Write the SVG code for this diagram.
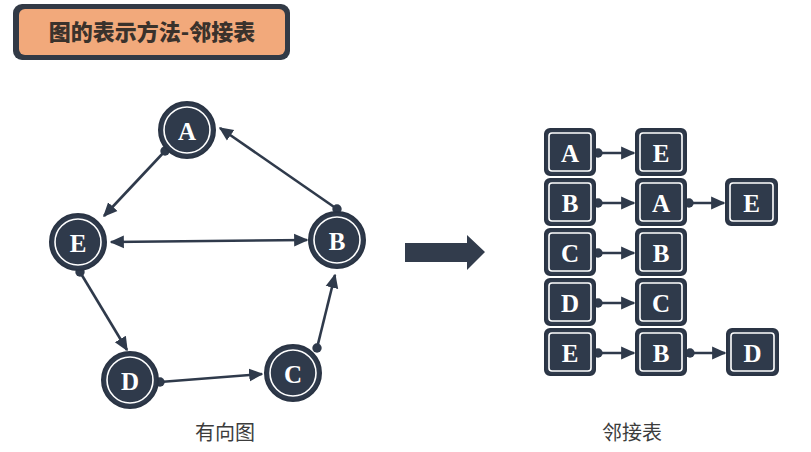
<svg xmlns="http://www.w3.org/2000/svg" width="811" height="452" viewBox="0 0 811 452">
<style>
.n circle.o{fill:#2f3a4b;stroke:#2a3444;stroke-width:2}
.n circle.i{fill:none;stroke:#ffffff;stroke-width:1.6}
.lt{font-family:"Liberation Serif","Times New Roman",serif;font-weight:bold;font-size:25px;fill:#ffffff;text-anchor:middle;dominant-baseline:central}
.b rect.o{fill:#2f3a4b;stroke:#2a3444;stroke-width:2}
.b rect.i{fill:none;stroke:#ffffff;stroke-width:1.6}
.e{stroke:#2f3a4b;stroke-width:2.6;fill:none}
.cap{font-family:"Noto Sans CJK SC","Noto Sans",sans-serif;font-size:20px;fill:#3c3c3c;text-anchor:middle}
</style>
<defs>
<marker id="ah" viewBox="0 0 10 10" refX="9" refY="5" markerWidth="5.5" markerHeight="5.5" orient="auto-start-reverse" markerUnits="strokeWidth">
<path d="M0,0.5 L10,5 L0,9.5 z" fill="#2f3a4b"/>
</marker>
<marker id="dt" viewBox="0 0 10 10" refX="5" refY="5" markerWidth="3.6" markerHeight="3.6" markerUnits="strokeWidth">
<circle cx="5" cy="5" r="5" fill="#2f3a4b"/>
</marker>
</defs>
<rect width="811" height="452" fill="#ffffff"/>
<g id="title">
<rect x="13" y="4" width="277" height="56" rx="9" fill="#323a46"/>
<rect x="19" y="9" width="266" height="46" rx="6" fill="#f2a97b"/>
<text x="152" y="40" font-family="Noto Sans CJK SC,sans-serif" font-weight="900" font-size="22" fill="#3a322c" text-anchor="middle">图的表示方法-邻接表</text>
</g>
<g id="connectors">
<line class="e" x1="165" y1="151" x2="104" y2="216" marker-start="url(#dt)" marker-end="url(#ah)"/>
<line class="e" x1="337" y1="209" x2="220" y2="128" marker-start="url(#dt)" marker-end="url(#ah)"/>
<line class="e" x1="111" y1="242" x2="307" y2="240" marker-start="url(#ah)" marker-end="url(#ah)"/>
<line class="e" x1="80" y1="272" x2="127" y2="350" marker-start="url(#dt)" marker-end="url(#ah)"/>
<line class="e" x1="160" y1="382" x2="262" y2="374" marker-start="url(#dt)" marker-end="url(#ah)"/>
<line class="e" x1="317" y1="348" x2="335" y2="275" marker-start="url(#dt)" marker-end="url(#ah)"/>
<line class="e" x1="598" y1="153" x2="634" y2="153" marker-start="url(#dt)" marker-end="url(#ah)"/>
<line class="e" x1="598" y1="203" x2="634" y2="203" marker-start="url(#dt)" marker-end="url(#ah)"/>
<line class="e" x1="689" y1="203" x2="724" y2="203" marker-start="url(#dt)" marker-end="url(#ah)"/>
<line class="e" x1="598" y1="253" x2="634" y2="253" marker-start="url(#dt)" marker-end="url(#ah)"/>
<line class="e" x1="598" y1="303" x2="634" y2="303" marker-start="url(#dt)" marker-end="url(#ah)"/>
<line class="e" x1="598" y1="353" x2="634" y2="353" marker-start="url(#dt)" marker-end="url(#ah)"/>
<line class="e" x1="690" y1="353" x2="725" y2="353" marker-start="url(#dt)" marker-end="url(#ah)"/>
</g>
<g id="node-A" class="n"><circle class="o" cx="187" cy="130" r="28"/><circle class="i" cx="187" cy="130" r="23"/><text class="lt" x="187" y="131">A</text></g>
<g id="node-E" class="n"><circle class="o" cx="78" cy="242" r="28"/><circle class="i" cx="78" cy="242" r="23"/><text class="lt" x="78" y="243">E</text></g>
<g id="node-B" class="n"><circle class="o" cx="337" cy="240" r="28"/><circle class="i" cx="337" cy="240" r="23"/><text class="lt" x="337" y="241">B</text></g>
<g id="node-D" class="n"><circle class="o" cx="130" cy="380" r="28"/><circle class="i" cx="130" cy="380" r="23"/><text class="lt" x="130" y="381">D</text></g>
<g id="node-C" class="n"><circle class="o" cx="293" cy="373" r="28"/><circle class="i" cx="293" cy="373" r="23"/><text class="lt" x="293" y="374">C</text></g>
<g id="big-arrow"><path d="M405,243 L467,243 L467,235 L485,252 L467,270 L467,262 L405,262 z" fill="#323c4c"/></g>
<g id="list-A" class="b"><rect class="o" x="545" y="129" width="50" height="46" rx="5"/><rect class="i" x="549" y="133" width="42" height="38" rx="3"/><text class="lt" x="570" y="153">A</text></g>
<g id="list-A-E" class="b"><rect class="o" x="636" y="129" width="50" height="46" rx="5"/><rect class="i" x="640" y="133" width="42" height="38" rx="3"/><text class="lt" x="661" y="153">E</text></g>
<g id="list-B" class="b"><rect class="o" x="545" y="179" width="50" height="46" rx="5"/><rect class="i" x="549" y="183" width="42" height="38" rx="3"/><text class="lt" x="570" y="203">B</text></g>
<g id="list-B-A" class="b"><rect class="o" x="636" y="179" width="50" height="46" rx="5"/><rect class="i" x="640" y="183" width="42" height="38" rx="3"/><text class="lt" x="661" y="203">A</text></g>
<g id="list-B-E" class="b"><rect class="o" x="726" y="179" width="51" height="46" rx="5"/><rect class="i" x="730" y="183" width="43" height="38" rx="3"/><text class="lt" x="751.5" y="203">E</text></g>
<g id="list-C" class="b"><rect class="o" x="545" y="229" width="50" height="46" rx="5"/><rect class="i" x="549" y="233" width="42" height="38" rx="3"/><text class="lt" x="570" y="253">C</text></g>
<g id="list-C-B" class="b"><rect class="o" x="636" y="229" width="50" height="46" rx="5"/><rect class="i" x="640" y="233" width="42" height="38" rx="3"/><text class="lt" x="661" y="253">B</text></g>
<g id="list-D" class="b"><rect class="o" x="545" y="279" width="50" height="46" rx="5"/><rect class="i" x="549" y="283" width="42" height="38" rx="3"/><text class="lt" x="570" y="303">D</text></g>
<g id="list-D-C" class="b"><rect class="o" x="636" y="279" width="50" height="46" rx="5"/><rect class="i" x="640" y="283" width="42" height="38" rx="3"/><text class="lt" x="661" y="303">C</text></g>
<g id="list-E" class="b"><rect class="o" x="545" y="329" width="50" height="46" rx="5"/><rect class="i" x="549" y="333" width="42" height="38" rx="3"/><text class="lt" x="570" y="353">E</text></g>
<g id="list-E-B" class="b"><rect class="o" x="636" y="329" width="50" height="46" rx="5"/><rect class="i" x="640" y="333" width="42" height="38" rx="3"/><text class="lt" x="661" y="353">B</text></g>
<g id="list-E-D" class="b"><rect class="o" x="727" y="329" width="51" height="46" rx="5"/><rect class="i" x="731" y="333" width="43" height="38" rx="3"/><text class="lt" x="752.5" y="353">D</text></g>
<text class="cap" x="225" y="440">有向图</text>
<text class="cap" x="632" y="440">邻接表</text>
</svg>
